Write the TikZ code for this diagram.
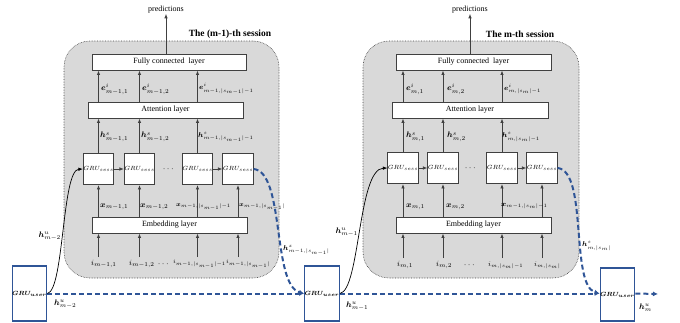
\documentclass[tikz,border=0pt]{standalone}
\usepackage{amsmath}
\usepackage{bm}
\usepackage{fontspec}
\setmainfont{Liberation Serif}
\usetikzlibrary{arrows.meta}
\definecolor{ublue}{RGB}{47,85,151}
\definecolor{sessgray}{RGB}{217,217,217}
\tikzset{
  sessbox/.style={draw=black!75, densely dotted, line width=0.6pt, fill=sessgray, rounded corners=26pt, inner sep=0},
  layerbox/.style={draw=black!75, fill=white, line width=0.9pt, inner sep=0, minimum height=16pt, font=\fontsize{8}{9}\selectfont},
  gsess/.style={draw=black!75, fill=white, line width=0.9pt, inner sep=0, minimum width=29pt, minimum height=31pt, font=\fontsize{6.5}{7}\selectfont},
  guser/.style={draw=ublue, fill=white, line width=1.2pt, inner sep=0, minimum width=29pt, minimum height=55pt, font=\fontsize{6.5}{7}\selectfont},
  arr/.style={draw=black!75, line width=0.8pt, -{Latex[length=4.5pt,width=3.5pt]}},
  carr/.style={draw=black, line width=0.7pt, -{Latex[length=4.5pt,width=3.5pt]}},
  barr/.style={draw=ublue, line width=2pt, dash pattern=on 5pt off 3pt, -{Latex[length=5pt,width=5pt]}},
  lbl/.style={inner sep=0, font=\fontsize{8}{9}\selectfont},
  lbll/.style={inner sep=0, font=\fontsize{7}{8}\selectfont},
  lbls/.style={inner sep=0, font=\fontsize{6.5}{7}\selectfont},
  lblt/.style={inner sep=0, font=\fontsize{6}{7}\selectfont},
  ttl/.style={inner sep=0, font=\fontsize{9.5}{11}\selectfont\bfseries},
  predl/.style={inner sep=0, font=\fontsize{8}{9}\selectfont},
  dotsl/.style={inner sep=0, font=\fontsize{9}{10}\selectfont}
}
\begin{document}
\begin{tikzpicture}[x=1pt,y=-1pt]
\useasboundingbox (0,0) rectangle (680,322);
% ---------- session 1 ----------
\node[sessbox, minimum width=215pt, minimum height=237pt] (s1) at (171.5,159.5) {};
\node[ttl] (t1) at (230,34) {The (m-1)-th session};
\node[layerbox, minimum width=154pt] (fc1) at (169,62) {Fully connected\ \ layer};
\node[layerbox, minimum width=155pt] (att1) at (165.5,110) {Attention layer};
\node[layerbox, minimum width=155pt] (emb1) at (169.5,225) {Embedding layer};
\node[gsess] (g11) at (98.5,169) {$GRU_{sess}$};
\node[gsess] (g12) at (139.5,169) {$GRU_{sess}$};
\node[gsess] (g13) at (197.5,169) {$GRU_{sess}$};
\node[gsess] (g14) at (238,169) {$GRU_{sess}$};
\node[dotsl] (d11) at (169,169) {$\cdots$};
\node[predl] (p1) at (166,10) {predictions};
\draw[arr] (fc1.north -| p1) -- (p1.south);
\foreach \g in {g11,g12,g13}{
  \draw[arr] (\g.north) -- (\g.north |- att1.south);
  \draw[arr] (\g.north |- att1.north) -- (\g.north |- fc1.south);
}
\draw[arr] (g11.east) -- (g12.west);
\draw[arr] (g13.east) -- (g14.west);
\foreach \g in {g11,g12,g13,g14}{
  \draw[arr] (\g |- emb1.north) -- (\g.south);
}
\node[lbl, anchor=west] (i11) at (91,264) {$i_{m-1,1}$};
\node[lbl, anchor=west] (i12) at (129,264) {$i_{m-1,2}$};
\node[dotsl] (d12) at (164,264) {$\cdots$};
\node[lblt, anchor=west] (i13) at (173,264) {$i_{m-1,|s_{m-1}|-1}$};
\node[lbls, anchor=west] (i14) at (226,264) {$i_{m-1,|s_{m-1}|}$};
\foreach \g in {g11,g12,g13,g14}{
  \draw[arr] (\g |- i11.north) ++(0,-3) -- (\g |- emb1.south);
}
\node[lbl, anchor=west] (x11) at (100,207) {$\bm{x}_{m-1,1}$};
\node[lbl, anchor=west] (x12) at (140,207) {$\bm{x}_{m-1,2}$};
\node[lbls, anchor=west] (x13) at (176,207) {$\bm{x}_{m-1,|s_{m-1}|-1}$};
\node[lbls, anchor=west] (x14) at (239,207) {$\bm{x}_{m-1,|s_{m-1}|}$};
\node[lbl, anchor=west] (h11) at (100,137) {$\bm{h}^{s}_{m-1,1}$};
\node[lbl, anchor=west] (h12) at (141,137) {$\bm{h}^{s}_{m-1,2}$};
\node[lbll, anchor=west] (h13) at (198,137) {$\bm{h}^{s}_{m-1,|s_{m-1}|-1}$};
\node[lbl, anchor=west] (e11) at (101,89) {$\bm{e}^{i}_{m-1,1}$};
\node[lbl, anchor=west] (e12) at (142,89) {$\bm{e}^{i}_{m-1,2}$};
\node[lbll, anchor=west] (e13) at (199,89) {$\bm{e}^{i}_{m-1,|s_{m-1}|-1}$};
% ---------- session 2 ----------
\node[sessbox, minimum width=216pt, minimum height=237pt] (s2) at (471,159.5) {};
\node[ttl] (t2) at (520,34) {The m-th session};
\node[layerbox, minimum width=155pt] (fc2) at (473.5,62) {Fully connected\ \ layer};
\node[layerbox, minimum width=156pt] (att2) at (470,110) {Attention layer};
\node[layerbox, minimum width=155pt] (emb2) at (473.5,225) {Embedding layer};
\node[gsess] (g21) at (403,168) {$GRU_{sess}$};
\node[gsess] (g22) at (443,168) {$GRU_{sess}$};
\node[gsess] (g23) at (502,168) {$GRU_{sess}$};
\node[gsess] (g24) at (542,168) {$GRU_{sess}$};
\node[dotsl] (d21) at (471,168) {$\cdots$};
\node[predl] (p2) at (470,10) {predictions};
\draw[arr] (fc2.north -| p2) -- (p2.south);
\foreach \g in {g21,g22,g23}{
  \draw[arr] (\g.north) -- (\g.north |- att2.south);
  \draw[arr] (\g.north |- att2.north) -- (\g.north |- fc2.south);
}
\draw[arr] (g21.east) -- (g22.west);
\draw[arr] (g23.east) -- (g24.west);
\foreach \g in {g21,g22,g23,g24}{
  \draw[arr] (\g |- emb2.north) -- (\g.south);
}
\node[lbl, anchor=west] (i21) at (397,265) {$i_{m,1}$};
\node[lbl, anchor=west] (i22) at (436,265) {$i_{m,2}$};
\node[dotsl] (d22) at (470,265) {$\cdots$};
\node[lbll, anchor=west] (i23) at (488,265) {$i_{m,|s_{m}|-1}$};
\node[lbll, anchor=west] (i24) at (534,265) {$i_{m,|s_{m}|}$};
\foreach \g in {g21,g22,g23,g24}{
  \draw[arr] (\g |- i21.north) ++(0,-3) -- (\g |- emb2.south);
}
\node[lbl, anchor=west] (x21) at (406,207) {$\bm{x}_{m,1}$};
\node[lbl, anchor=west] (x22) at (446,207) {$\bm{x}_{m,2}$};
\node[lbll, anchor=west] (x23) at (501,206) {$\bm{x}_{m-1,|s_{m}|-1}$};
\node[lbl, anchor=west] (h21) at (406,137) {$\bm{h}^{s}_{m,1}$};
\node[lbl, anchor=west] (h22) at (447,137) {$\bm{h}^{s}_{m,2}$};
\node[lbll, anchor=west] (h23) at (502,137) {$\bm{h}^{s}_{m,|s_{m}|-1}$};
\node[lbl, anchor=west] (e21) at (406,89) {$\bm{e}^{i}_{m,1}$};
\node[lbl, anchor=west] (e22) at (447,89) {$\bm{e}^{i}_{m,2}$};
\node[lbll, anchor=west] (e23) at (504,89) {$\bm{e}^{i}_{m,|s_{m}|-1}$};
% ---------- user GRUs ----------
\node[guser] (u1) at (29.5,293.5) {$\bm{GRU_{user}}$};
\node[guser, minimum width=30pt] (u2) at (322,293.5) {$\bm{GRU_{user}}$};
\node[guser, minimum height=53pt] (u3) at (617.5,294.5) {$\bm{GRU_{user}}$};
\coordinate (uend) at (658,294);
\draw[barr] (u1.east) -- (u2.west);
\draw[barr] (u2.east) -- (u3.west |- u2.east);
\draw[barr] (u3.east |- u2.east) -- (uend);
\draw[carr] (u1.east) .. controls (64,290) and (62,170) .. (g11.west);
\draw[carr] (u2.east) .. controls (360,290) and (358,169) .. (g21.west);
\draw[barr] (g14.east) .. controls (285,172) and (272,285) .. (u2.west);
\draw[barr] (g24.east) .. controls (588,171) and (570,285) .. (u3.west |- u2.east);
\node[lbl, anchor=east] (hu1a) at (61,236) {$\bm{h}^{u}_{m-2}$};
\node[lbl, anchor=west] (hu1b) at (54,304) {$\bm{h}^{u}_{m-2}$};
\node[lbll, anchor=west] (hz1) at (283,250) {$\bm{h}^{z}_{m-1,|s_{m-1}|}$};
\node[lbl, anchor=east] (hu2a) at (358,232) {$\bm{h}^{u}_{m-1}$};
\node[lbl, anchor=west] (hu2b) at (346,306) {$\bm{h}^{u}_{m-1}$};
\node[lbll, anchor=west] (hz2) at (582,246) {$\bm{h}^{s}_{m,|s_{m}|}$};
\node[lbl, anchor=west] (hu3) at (639,308) {$\bm{h}^{u}_{m}$};
\end{tikzpicture}
\end{document}
